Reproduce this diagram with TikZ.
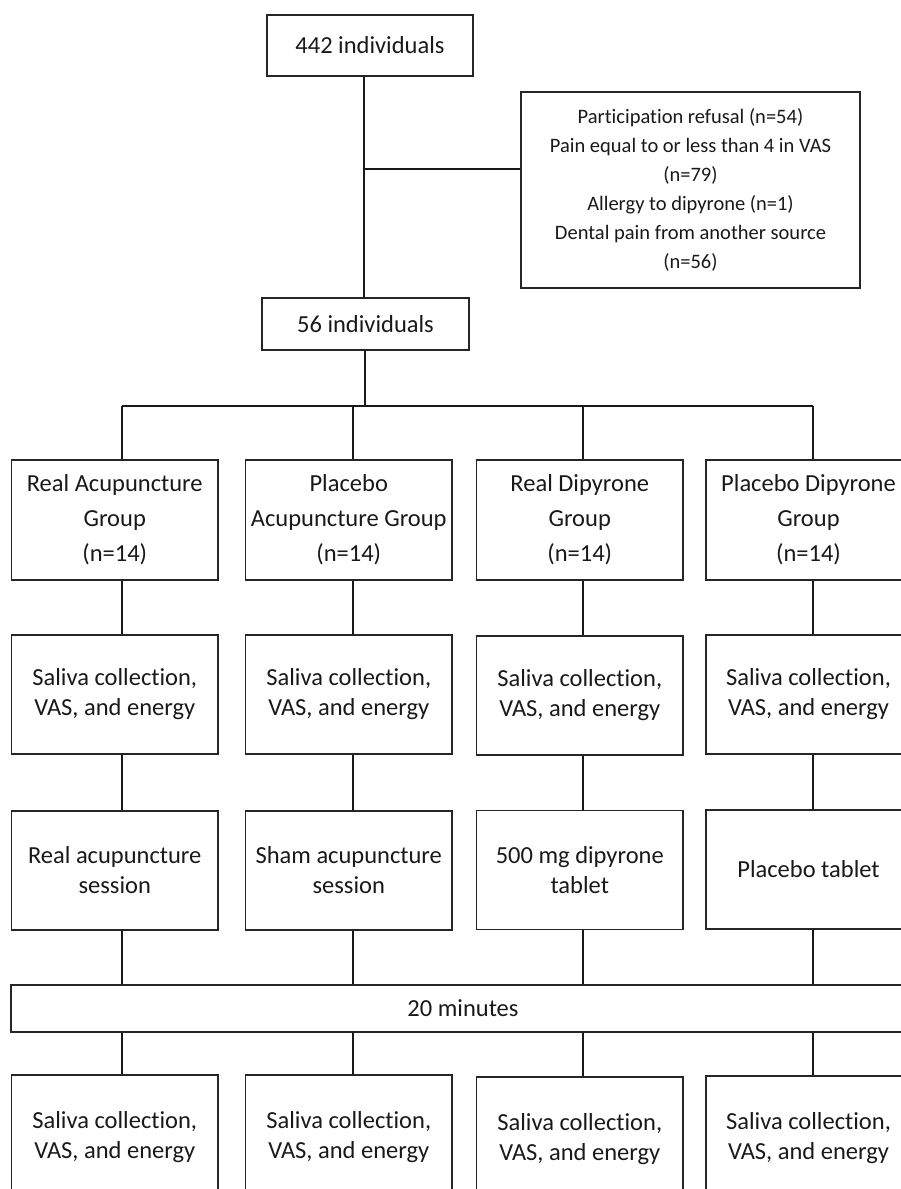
\documentclass[tikz,border=0pt]{standalone}
\usepackage{fontspec}
\setmainfont{Carlito}[Ligatures=NoCommon]
\newcommand\mainfs{\fontsize{24.5}{30}\selectfont}
\newcommand\rowonefs{\fontsize{24.5}{35}\selectfont}
\newcommand\exfs{\fontsize{20.5}{29}\selectfont}
\begin{document}
\begin{tikzpicture}[x=1pt,y=-1pt,
  conn/.style={draw=black!90, line width=1.4pt},
  box/.style={draw=black!85, line width=1.2pt, inner sep=0pt, align=center, font=\mainfs, text=black!90},
  grp/.style={box, font=\rowonefs, minimum width=206.5pt, minimum height=120pt},
  sal/.style={box, minimum width=206.5pt, minimum height=119pt},
  trt/.style={box, minimum width=206.5pt, minimum height=119pt},
  fin/.style={box, minimum width=206.5pt, minimum height=124pt}]
\useasboundingbox (0,0) rectangle (901,1189);
\clip (0,0) rectangle (901,1189);

% top part
\node[box, minimum width=206pt, minimum height=61pt] (top) at (370,45.5) {442 individuals};
\node[box, font=\exfs, minimum width=339pt, minimum height=196pt] (excl) at (690.5,190)
  {Participation refusal (n=54)\\Pain equal to or less than 4 in VAS\\(n=79)\\Allergy to dipyrone (n=1)\\Dental pain from another source\\(n=56)};
\node[box, minimum width=207pt, minimum height=52pt] (n56) at (365.5,324) {56 individuals};

\coordinate (x0) at (364,0);
\coordinate (brn) at (364,169);
\draw[conn] (top.south -| x0) -- (n56.north -| x0);
\draw[conn] (brn) -- (brn -| excl.west);

% columns
\coordinate (c1) at (122,0);
\coordinate (c2) at (353,0);
\coordinate (c3) at (583,0);
\coordinate (c4) at (813,0);
\coordinate (busL) at (122,406);
\coordinate (busR) at (813,406);
\coordinate (x56) at (365,0);

% row 1
\node[grp] (g1) at (114.75,520) {Real Acupuncture\\Group\\(n=14)};
\node[grp] (g2) at (348.75,520) {Placebo\\Acupuncture Group\\(n=14)};
\node[grp] (g3) at (579.75,520) {Real Dipyrone\\Group\\(n=14)};
\node[grp, minimum width=205pt] (g4) at (808.5,520) {Placebo Dipyrone\\Group\\(n=14)};

% row 2
\node[sal] (s1) at (114.75,694.5) {Saliva collection,\\VAS, and energy};
\node[sal] (s2) at (348.75,694.5) {Saliva collection,\\VAS, and energy};
\node[sal] (s3) at (579.75,695.5) {Saliva collection,\\VAS, and energy};
\node[sal, minimum width=205pt] (s4) at (808.5,694.5) {Saliva collection,\\VAS, and energy};

% row 3
\node[trt] (t1) at (114.75,870.5) {Real acupuncture\\session};
\node[trt] (t2) at (348.75,870.5) {Sham acupuncture\\session};
\node[trt] (t3) at (579.75,870) {500 mg dipyrone\\tablet};
\node[trt, minimum width=205pt] (t4) at (808.5,869.5) {Placebo tablet};

% bar
\node[box, minimum width=904pt, minimum height=47pt] (bar) at (463,1008.5) {20 minutes};

% row 4
\node[fin] (f1) at (114.75,1137) {Saliva collection,\\VAS, and energy};
\node[fin] (f2) at (348.75,1137) {Saliva collection,\\VAS, and energy};
\node[fin] (f3) at (579.75,1139) {Saliva collection,\\VAS, and energy};
\node[fin, minimum width=205pt] (f4) at (808.5,1138) {Saliva collection,\\VAS, and energy};

% bus
\draw[conn] (n56.south -| x56) -- (busL -| x56);
\draw[conn] (busL) -- (busR);
\foreach \i in {1,2,3,4}{
  \draw[conn] (busL -| c\i) -- (g\i.north -| c\i);
  \draw[conn] (g\i.south -| c\i) -- (s\i.north -| c\i);
  \draw[conn] (s\i.south -| c\i) -- (t\i.north -| c\i);
  \draw[conn] (t\i.south -| c\i) -- (bar.north -| c\i);
  \draw[conn] (bar.south -| c\i) -- (f\i.north -| c\i);
}
\end{tikzpicture}
\end{document}
